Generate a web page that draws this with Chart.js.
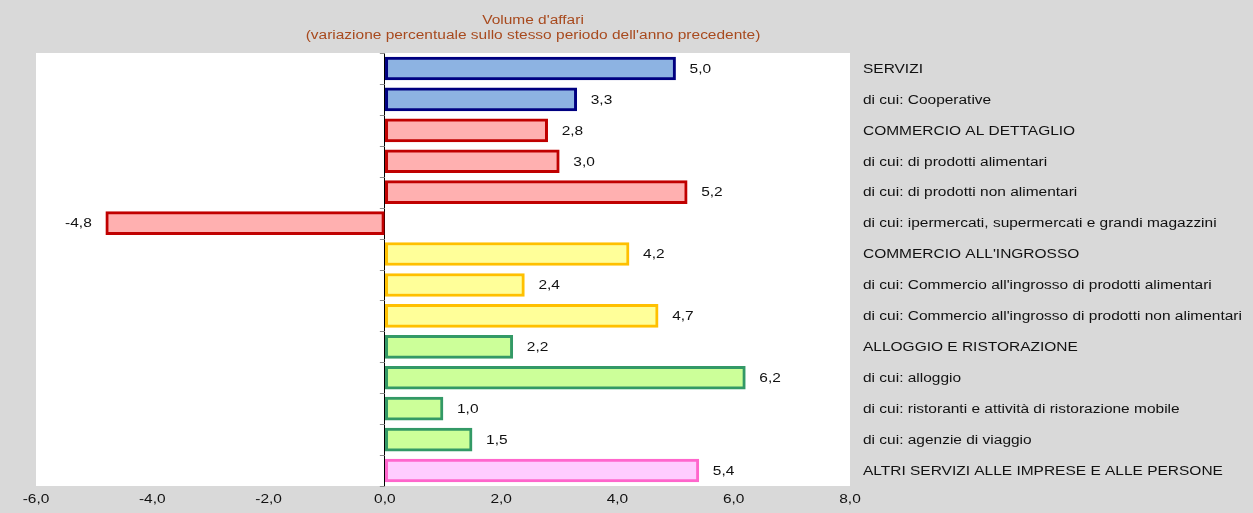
<!DOCTYPE html>
<html lang="it">
<head>
<meta charset="UTF-8" />
<title>Volume d'affari</title>
<style>
  html, body { margin: 0; padding: 0; background: #d9d9d9; }
  #wrap { width: 1253px; height: 513px; }
</style>
</head>
<body>
<div id="wrap"><canvas id="grafico" width="1253" height="513"></canvas></div>
<script src="https://cdn.jsdelivr.net/npm/chart.js@4/dist/chart.umd.min.js"></script>
<script>
// dati
var categorie = [
  'SERVIZI',
  'di cui: Cooperative',
  'COMMERCIO AL DETTAGLIO',
  'di cui: di prodotti alimentari',
  'di cui: di prodotti non alimentari',
  'di cui: ipermercati, supermercati e grandi magazzini',
  "COMMERCIO ALL'INGROSSO",
  "di cui: Commercio all'ingrosso di prodotti alimentari",
  "di cui: Commercio all'ingrosso di prodotti non alimentari",
  'ALLOGGIO E RISTORAZIONE',
  'di cui: alloggio',
  'di cui: ristoranti e attività di ristorazione mobile',
  'di cui: agenzie di viaggio',
  'ALTRI SERVIZI ALLE IMPRESE E ALLE PERSONE'
];
var valori = [5.0, 3.3, 2.8, 3.0, 5.2, -4.8, 4.2, 2.4, 4.7, 2.2, 6.2, 1.0, 1.5, 5.4];
var gruppi = [0, 0, 1, 1, 1, 1, 2, 2, 2, 3, 3, 3, 3, 4];
var tickX = [-6, -4, -2, 0, 2, 4, 6, 8];
var titolo = ["Volume d'affari", "(variazione percentuale sullo stesso periodo dell'anno precedente)"];

// colori per gruppo
var riempimento = ['#8db3e2', '#ffb0b0', '#ffff99', '#ccff99', '#ffccff'];
var bordo = ['#000080', '#c00000', '#ffc000', '#339966', '#ff66cc'];

var FONT = '12px "Liberation Sans", Arial, sans-serif';
var SX = 1.29; // il riferimento ha il testo allargato in orizzontale

function fmt(v) { return v.toFixed(1).replace('.', ','); }

function testoLargo(ctx, txt, x, y, align, color) {
  ctx.save();
  ctx.font = FONT;
  ctx.fillStyle = color || '#111';
  ctx.textBaseline = 'middle';
  ctx.textAlign = align;
  ctx.translate(x, y);
  ctx.scale(SX, 1);
  ctx.fillText(txt, 0, 0);
  ctx.restore();
}

// sfondo bianco dell'area del grafico
var sfondo = {
  id: 'sfondo',
  beforeDraw: function (chart) {
    var a = chart.chartArea, ctx = chart.ctx;
    ctx.save();
    ctx.fillStyle = '#ffffff';
    ctx.fillRect(a.left, a.top, a.right - a.left, a.bottom - a.top);
    ctx.restore();
  }
};

// testi: titolo, etichette, valori
var testi = {
  id: 'testi',
  afterDraw: function (chart) {
    var ctx = chart.ctx, a = chart.chartArea;
    var xs = chart.scales.x, ys = chart.scales.y;
    testoLargo(ctx, titolo[0], 533, 21, 'center', '#a84a1e');
    testoLargo(ctx, titolo[1], 533, 36, 'center', '#a84a1e');

    tickX.forEach(function (t) {
      testoLargo(ctx, fmt(t), xs.getPixelForValue(t), 500, 'center');
    });

    categorie.forEach(function (c, i) {
      testoLargo(ctx, c, a.right + 13, ys.getPixelForValue(i) + 1, 'left');
    });

    var x0 = xs.getPixelForValue(0);
    var meta = chart.getDatasetMeta(0);
    meta.data.forEach(function (bar, i) {
      var v = valori[i];
      if (v >= 0) testoLargo(ctx, fmt(v), bar.x + 14, bar.y + 1, 'left');
      else testoLargo(ctx, fmt(v), bar.x - 14, bar.y + 1, 'right');
    });

    // piccole tacche a sinistra della linea dello zero
    ctx.save();
    ctx.strokeStyle = '#8c8c8c';
    ctx.lineWidth = 1;
    var passo = (a.bottom - a.top) / categorie.length;
    for (var k = 0; k <= categorie.length; k++) {
      var y = Math.round(a.top + k * passo) + 0.5;
      ctx.beginPath();
      ctx.moveTo(x0 - 5, y);
      ctx.lineTo(x0, y);
      ctx.stroke();
    }
    ctx.restore();
  }
};

new Chart(document.getElementById('grafico'), {
  type: 'bar',
  data: {
    labels: categorie,
    datasets: [{
      data: valori,
      backgroundColor: gruppi.map(function (g) { return riempimento[g]; }),
      borderColor: gruppi.map(function (g) { return bordo[g]; }),
      borderWidth: 3,
      borderSkipped: false,
      barThickness: 23
    }]
  },
  options: {
    indexAxis: 'y',
    responsive: false,
    animation: false,
    events: [],
    layout: { padding: { top: 53, left: 36, right: 0, bottom: 0 } },
    plugins: { legend: { display: false }, tooltip: { enabled: false }, title: { display: false } },
    scales: {
      x: {
        min: -6, max: 8,
        ticks: { stepSize: 2, display: false },
        border: { display: false },
        grid: {
          drawTicks: false,
          lineWidth: 1,
          color: function (c) { return c.tick && c.tick.value === 0 ? '#000000' : 'rgba(0,0,0,0)'; }
        },
        afterFit: function (s) { s.height = 27; }
      },
      y: {
        position: 'right',
        ticks: { display: false },
        border: { display: false },
        grid: { display: false },
        afterFit: function (s) { s.width = 403; }
      }
    }
  },
  plugins: [sfondo, testi]
});
</script>
</body>
</html>
